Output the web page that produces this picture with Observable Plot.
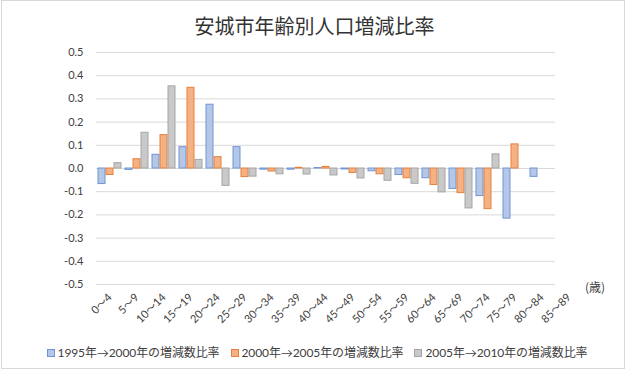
<!DOCTYPE html>
<html>
<head>
<meta charset="utf-8">
<script src="https://cdn.jsdelivr.net/npm/d3@7"></script>
<script src="https://cdn.jsdelivr.net/npm/@observablehq/plot@0.6"></script>
<style>
  html, body { margin: 0; padding: 0; background: #fff; }
  body { width: 629px; height: 373px; position: relative; overflow: hidden;
         font-family: Lato, "Noto Sans CJK JP", sans-serif; color: #404040; }
  #frame { position: absolute; left: 1px; top: 0px; width: 624px; height: 369px;
           border: 1px solid #d9d9d9; box-sizing: border-box; pointer-events: none; }
  #title { position: absolute; left: 0; top: 12px; width: 629px; text-align: center;
           font-family: "Noto Sans CJK JP", sans-serif; font-size: 20px; line-height: 28px; color: #333; }
  #chart { position: absolute; left: 0; top: 44px; }
  #unit { position: absolute; left: 585px; top: 278px; font-family: "Noto Sans CJK JP", sans-serif;
          font-size: 12px; line-height: 18px; color: #404040; }
  #legend { position: absolute; left: 0; top: 344px; width: 634px; display: flex; justify-content: center;
            gap: 11px; font-size: 12px; line-height: 18px; color: #404040; }
  .item { display: flex; align-items: center; gap: 3px; white-space: nowrap; }
  .sw { width: 6px; height: 6px; border: 1px solid; display: inline-block; }
  .item span.t { font-family: Lato, "Noto Sans CJK JP", sans-serif; letter-spacing: -0.1px; }
</style>
</head>
<body>
<div id="title">安城市年齢別人口増減比率</div>
<div id="chart"></div>
<div id="unit">(歳)</div>
<div id="legend"></div>
<div id="frame"></div>
<script>
// ---- data ----
const ages = ["0～4","5～9","10～14","15～19","20～24","25～29","30～34","35～39","40～44",
              "45～49","50～54","55～59","60～64","65～69","70～74","75～79","80～84","85～89"];
const seriesNames = ["1995年→2000年の増減数比率","2000年→2005年の増減数比率","2005年→2010年の増減数比率"];
const s1995 = [-0.067,-0.006, 0.059, 0.092, 0.275, 0.092,-0.005,-0.005, 0.002,-0.004,-0.012,-0.028,-0.042,-0.088,-0.119,-0.216,-0.036, null];
const s2000 = [-0.028, 0.040, 0.144, 0.348, 0.049,-0.037,-0.013, 0.003, 0.007,-0.019,-0.025,-0.042,-0.071,-0.106,-0.175, 0.104, null, null];
const s2005 = [ 0.023, 0.154, 0.354, 0.037,-0.075,-0.035,-0.025,-0.026,-0.030,-0.043,-0.053,-0.066,-0.103,-0.172, 0.061, null, null, null];
const yTicks = [0.5,0.4,0.3,0.2,0.1,0.0,-0.1,-0.2,-0.3,-0.4,-0.5];
const fills   = ["#b4c7e7","#f4b183","#c9c9c9"];
const strokes = ["#6f95d6","#e8803d","#a5a5a5"];

const seriesValues = [s1995, s2000, s2005];
const rows = seriesValues.map((vals, si) =>
  ages.map((age, i) => ({age, series: seriesNames[si], value: vals[i]})).filter(d => d.value != null));

const chart = Plot.plot({
  width: 629,
  height: 295,
  marginLeft: 95,
  marginRight: 46,
  marginTop: 8,
  marginBottom: 55,
  style: {fontFamily: 'Lato, "Noto Sans CJK JP", sans-serif', fontSize: "11px", color: "#404040", background: "transparent"},
  fx: {domain: ages, padding: 0, label: null, tickSize: 0, tickPadding: 11, tickRotate: -45},
  x: {domain: seriesNames, axis: null, paddingInner: 0.1, paddingOuter: 0.2},
  y: {domain: [-0.5, 0.5], ticks: yTicks, tickFormat: d => d.toFixed(1), tickSize: 0, tickPadding: 13, label: null},
  marks: [
    Plot.ruleY(yTicks, {stroke: "#d9d9d9", strokeWidth: 1}),
    ...rows.map((data, si) => Plot.barY(data, {
      fx: "age", x: "series", y: "value",
      fill: fills[si], stroke: strokes[si], strokeWidth: 1
    }))
  ]
});
document.getElementById("chart").appendChild(chart);

const legend = document.getElementById("legend");
seriesNames.forEach((name, i) => {
  const item = document.createElement("div");
  item.className = "item";
  const sw = document.createElement("span");
  sw.className = "sw";
  sw.style.background = fills[i];
  sw.style.borderColor = strokes[i];
  const t = document.createElement("span");
  t.className = "t";
  t.textContent = name;
  item.appendChild(sw);
  item.appendChild(t);
  legend.appendChild(item);
});
</script>
</body>
</html>
